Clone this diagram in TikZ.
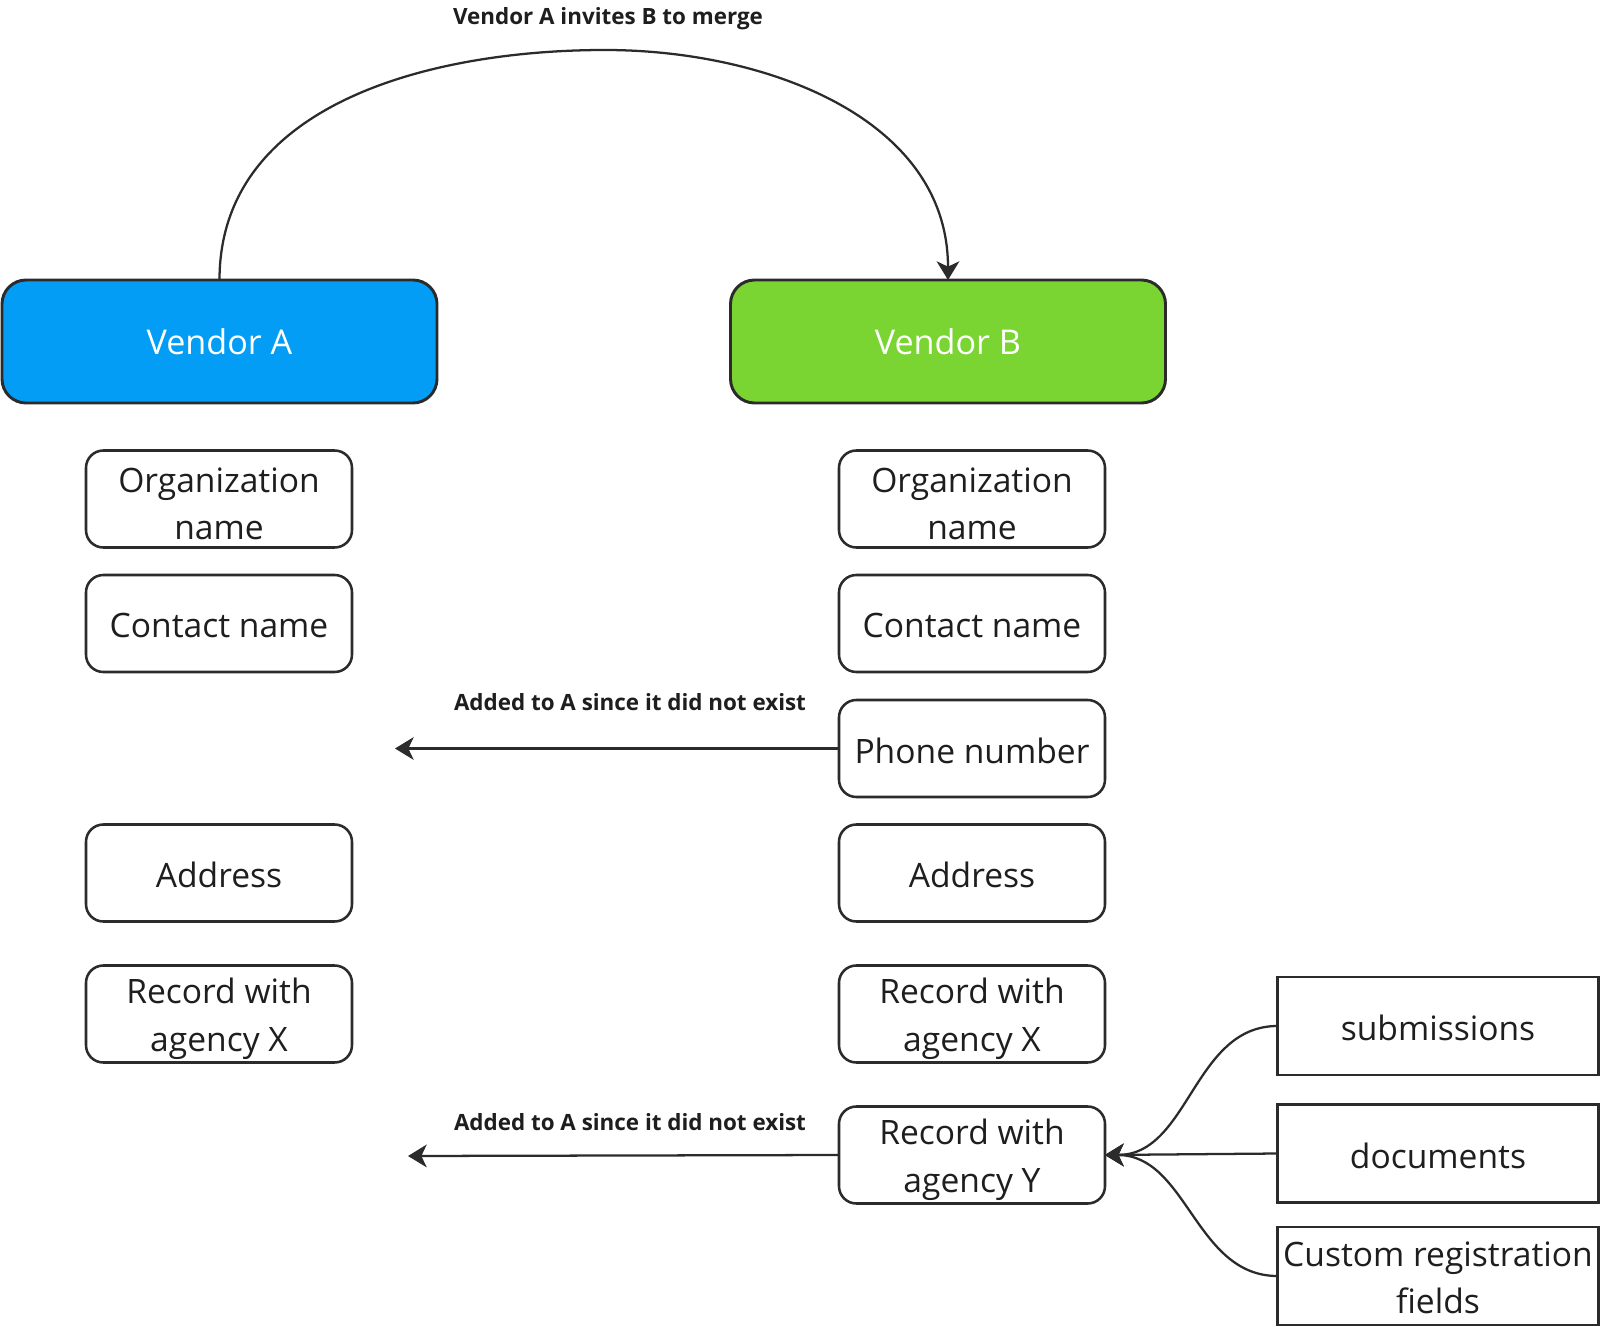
\documentclass[tikz,border=0pt]{standalone}
\usepackage{fontspec}
\setmainfont{Open Sans}
\usetikzlibrary{arrows.meta}
\definecolor{vablue}{HTML}{039DF5}
\definecolor{vbgreen}{HTML}{7AD432}
\definecolor{ink}{HTML}{2B2B2B}
\definecolor{txt}{HTML}{1E1E1E}
\begin{document}
\begin{tikzpicture}[x=0.75pt,y=-0.75pt,
  vendorbox/.style={draw=ink,line width=2.2pt,rounded corners=18pt,
    minimum width=435*0.75pt,minimum height=123*0.75pt,inner sep=0pt,outer sep=0pt,
    text=white,font=\fontsize{25.6}{30}\selectfont},
  boxtext/.style={text=txt,align=center,inner sep=0pt,font=\fontsize{25.2}{35.5}\selectfont},
  fieldbox/.style={draw=ink,line width=1.9pt,rounded corners=13pt,fill=white,
    minimum width=266*0.75pt,minimum height=97*0.75pt,inner sep=0pt,outer sep=0pt},
  subbox/.style={draw=ink,line width=1.9pt,fill=white,
    minimum width=321*0.75pt,minimum height=98*0.75pt,inner sep=0pt,outer sep=0pt},
  one/.style={label={[boxtext,yshift=-1.5pt]center:#1}},
  two/.style={label={[boxtext,yshift=-3.6pt]center:#1}},
  edgelabel/.style={text=txt,font=\bfseries\fontsize{16.8}{19}\selectfont,inner sep=0pt},
  conn/.style={draw=ink,line width=1.7pt,-{Stealth[length=14pt,width=17pt,inset=4pt]}}
]
\useasboundingbox (0,0) rectangle (1600,1327);

% vendors
\node[vendorbox,fill=vablue] (va) at (219.5,341.5) {Vendor A};
\node[vendorbox,fill=vbgreen] (vb) at (948,341.5) {Vendor B};

% left column (Vendor A)
\node[fieldbox,two={Organization\\name}] (aorg) at (219,499) {};
\node[fieldbox,one={Contact name}] (acon) at (219,623.5) {};
\node[fieldbox,one={Address}] (aadr) at (219,873) {};
\node[fieldbox,two={Record with\\agency X}] (arx) at (219,1014) {};

% right column (Vendor B)
\node[fieldbox,two={Organization\\name}] (borg) at (972,499) {};
\node[fieldbox,one={Contact name}] (bcon) at (972,623.5) {};
\node[fieldbox,one={Phone number}] (bph) at (972,748.5) {};
\node[fieldbox,one={Address}] (badr) at (972,873) {};
\node[fieldbox,two={Record with\\agency X}] (brx) at (972,1014) {};
\node[fieldbox,two={Record with\\agency Y}] (bry) at (972,1155) {};

% sub items
\node[subbox,one={submissions}] (sub) at (1438,1026) {};
\node[subbox,one={documents}] (doc) at (1438,1153.5) {};
\node[subbox,label={[boxtext,yshift=-1.5pt]center:Custom registration\\fields}] (cus) at (1438,1276) {};

% top arc
\coordinate (peak) at (605,50);
\draw[conn] (va.north) to[out=90,in=180] (peak) to[out=0,in=90] (vb.north);
\node[edgelabel] (ltop) at (608,19) {Vendor A invites B to merge};

% added arrows
\coordinate (pA) at (395,748.5);
\coordinate (yA) at (408,1156);
\draw[conn] (bph.west) -- (pA);
\draw[conn] (bry.west) -- (yA);
\node[edgelabel] (l1) at (630,702) {Added to A since it did not exist};
\node[edgelabel] (l2) at (630,1122) {Added to A since it did not exist};

% sub items to record Y
\draw[conn] (doc.west) -- (bry.east);
\draw[conn] (sub.west) to[out=180,in=0] (bry.east);
\draw[conn] (cus.west) to[out=180,in=0] (bry.east);
\end{tikzpicture}
\end{document}
